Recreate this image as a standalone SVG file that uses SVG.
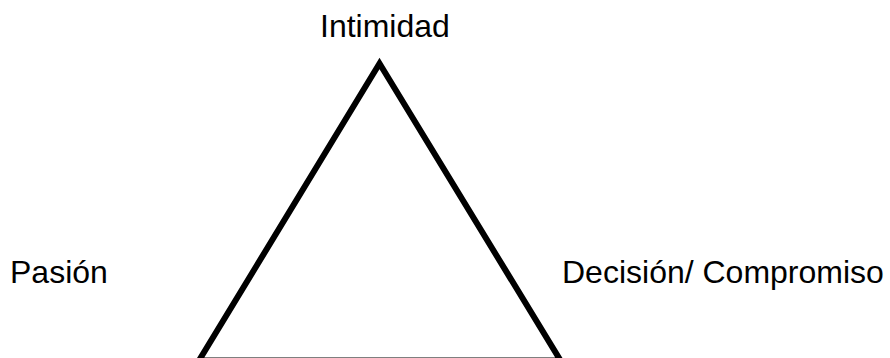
<svg xmlns="http://www.w3.org/2000/svg" width="890" height="358" viewBox="0 0 890 358">
<style>
.lbl{font-family:"Liberation Sans",Arial,sans-serif;font-size:32px;fill:#000}
.tri{fill:none;stroke:#000;stroke-width:6;stroke-linejoin:miter}
</style>
<rect width="890" height="358" fill="#fff"/>
<g id="connectors">
<polygon class="tri" points="379.5,63.5 199,360.5 560.5,360.5"/>
</g>
<g id="intimidad"><text class="lbl" x="320" y="37">Intimidad</text></g>
<g id="pasion"><text class="lbl" x="10" y="283">Pasión</text></g>
<g id="decision"><text class="lbl" x="562" y="283">Decisión/ Compromiso</text></g>
</svg>
